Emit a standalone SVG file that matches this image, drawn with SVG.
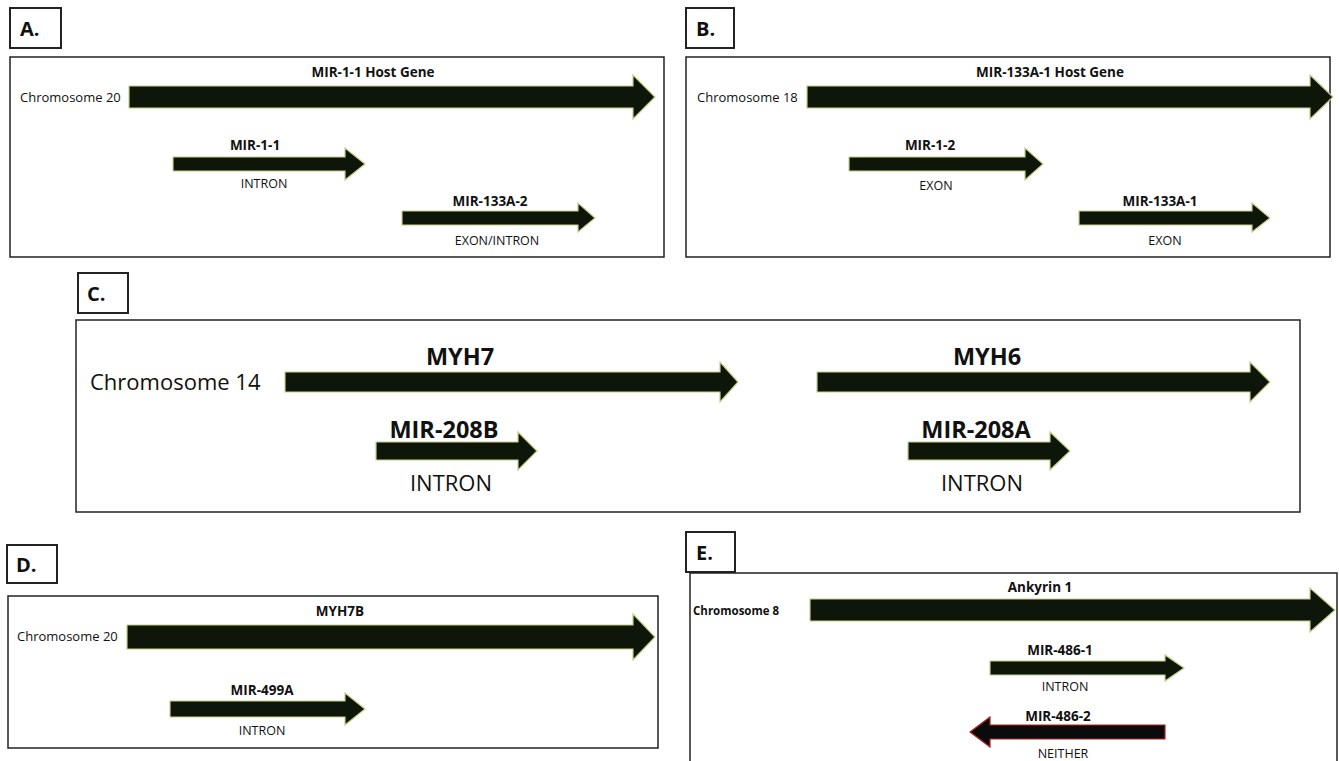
<svg xmlns="http://www.w3.org/2000/svg" width="1339" height="761" viewBox="0 0 1339 761">
  <style>
    .frame { fill: none; stroke: #222; stroke-width: 1.5; }
    .tag { fill: #fff; stroke: #222; stroke-width: 2; }
    .tagtxt { font-family: "Open Sans", "Liberation Sans", sans-serif; font-weight: bold; font-size: 20px; fill: #111; }
    .gene { fill: #0e1509; stroke: #c4cf8a; stroke-width: 1.2; stroke-linejoin: miter; }
    .rev { fill: #0b0b0b; stroke: #b22222; stroke-width: 1.2; }
    .sm { font-family: "Open Sans", "Liberation Sans", sans-serif; font-size: 12.5px; fill: #111; }
    .smb { font-family: "Open Sans", "Liberation Sans", sans-serif; font-size: 13.5px; font-weight: bold; fill: #111; }
    .chr { font-family: "Open Sans", "Liberation Sans", sans-serif; font-size: 13px; fill: #111; }
    .lg { font-family: "Open Sans", "Liberation Sans", sans-serif; font-size: 22px; fill: #111; }
    .lgb { font-family: "Open Sans", "Liberation Sans", sans-serif; font-size: 23.5px; font-weight: bold; fill: #111; }
    .mid { text-anchor: middle; }
  </style>

  <rect width="1339" height="761" fill="#fff"/>

  <!-- Panel A -->
  <g id="panel-a">
    <rect class="tag" x="10" y="8" width="51" height="40"/>
    <text class="tagtxt" x="20" y="36">A.</text>
    <rect class="frame" x="10" y="57" width="654" height="200"/>
    <text class="chr" x="20" y="102">Chromosome 20</text>
    <g id="a-host">
      <path class="gene" d="M129,86 H633 V75 L655,97 L633,119 V108 H129 Z"/>
      <text class="smb mid" x="373" y="77">MIR-1-1 Host Gene</text>
    </g>
    <g id="a-mir-1-1">
      <path class="gene" d="M173,157 H345 V148 L365,164 L345,180 V171 H173 Z"/>
      <text class="smb mid" x="255" y="150">MIR-1-1</text>
      <text class="sm mid" x="264" y="188">INTRON</text>
    </g>
    <g id="a-mir-133a-2">
      <path class="gene" d="M402,211 H578 V203 L595,218 L578,232 V225 H402 Z"/>
      <text class="smb mid" x="490" y="206">MIR-133A-2</text>
      <text class="sm mid" x="497" y="245">EXON/INTRON</text>
    </g>
  </g>

  <!-- Panel B -->
  <g id="panel-b">
    <rect class="tag" x="686" y="8" width="48" height="40"/>
    <text class="tagtxt" x="696" y="36">B.</text>
    <rect class="frame" x="686" y="57" width="644" height="200"/>
    <text class="chr" x="697" y="102">Chromosome 18</text>
    <g id="b-host">
      <path class="gene" d="M807,86 H1310 V75 L1333,97 L1310,119 V108 H807 Z"/>
      <text class="smb mid" x="1050" y="77">MIR-133A-1 Host Gene</text>
    </g>
    <g id="b-mir-1-2">
      <path class="gene" d="M849,157 H1025 V148 L1043,164 L1025,180 V171 H849 Z"/>
      <text class="smb mid" x="930" y="150">MIR-1-2</text>
      <text class="sm mid" x="936" y="190">EXON</text>
    </g>
    <g id="b-mir-133a-1">
      <path class="gene" d="M1079,211 H1252 V203 L1270,218 L1252,232 V225 H1079 Z"/>
      <text class="smb mid" x="1160" y="206">MIR-133A-1</text>
      <text class="sm mid" x="1165" y="245">EXON</text>
    </g>
  </g>

  <!-- Panel C -->
  <g id="panel-c">
    <rect class="tag" x="78" y="273" width="50" height="40"/>
    <text class="tagtxt" x="87" y="301">C.</text>
    <rect class="frame" x="76" y="320" width="1224" height="192"/>
    <text class="lg" x="90" y="390">Chromosome 14</text>
    <g id="c-myh7">
      <path class="gene" d="M285,372 H720 V362 L738,382 L720,402 V392 H285 Z"/>
      <text class="lgb mid" x="460" y="365">MYH7</text>
    </g>
    <g id="c-myh6">
      <path class="gene" d="M817,372 H1250 V362 L1270,382 L1250,402 V392 H817 Z"/>
      <text class="lgb mid" x="987" y="365">MYH6</text>
    </g>
    <g id="c-mir-208b">
      <path class="gene" d="M376,442 H518 V432 L537,451 L518,470 V460 H376 Z"/>
      <text class="lgb mid" x="444" y="438">MIR-208B</text>
      <text class="lg mid" x="451" y="491">INTRON</text>
    </g>
    <g id="c-mir-208a">
      <path class="gene" d="M908,442 H1050 V432 L1070,451 L1050,470 V460 H908 Z"/>
      <text class="lgb mid" x="976" y="438">MIR-208A</text>
      <text class="lg mid" x="982" y="491">INTRON</text>
    </g>
  </g>

  <!-- Panel D -->
  <g id="panel-d">
    <rect class="tag" x="7" y="545" width="50" height="38"/>
    <text class="tagtxt" x="16" y="572">D.</text>
    <rect class="frame" x="8" y="596" width="650" height="152"/>
    <text class="chr" x="17" y="641">Chromosome 20</text>
    <g id="d-myh7b">
      <path class="gene" d="M127,625 H633 V614 L655,637 L633,660 V649 H127 Z"/>
      <text class="smb mid" x="340" y="616">MYH7B</text>
    </g>
    <g id="d-mir-499a">
      <path class="gene" d="M170,701 H345 V693 L365,709 L345,725 V717 H170 Z"/>
      <text class="smb mid" x="262" y="695">MIR-499A</text>
      <text class="sm mid" x="262" y="735">INTRON</text>
    </g>
  </g>

  <!-- Panel E -->
  <g id="panel-e">
    <rect class="tag" x="686" y="532" width="49" height="40"/>
    <text class="tagtxt" x="696" y="560">E.</text>
    <rect class="frame" x="690" y="573" width="647" height="200"/>
    <text class="chr" x="693" y="615" style="font-size:11.5px;font-weight:bold">Chromosome 8</text>
    <g id="e-ank1">
      <path class="gene" d="M810,599 H1310 V588 L1335,610 L1310,632 V621 H810 Z"/>
      <text class="smb mid" x="1040" y="592">Ankyrin 1</text>
    </g>
    <g id="e-mir-486-1">
      <path class="gene" d="M990,661 H1165 V655 L1184,668 L1165,681 V675 H990 Z"/>
      <text class="smb mid" x="1060" y="655">MIR-486-1</text>
      <text class="sm mid" x="1065" y="691">INTRON</text>
    </g>
    <g id="e-mir-486-2">
      <path class="rev" d="M1165,725 H990 V717 L970,732 L990,747 V739 H1165 Z"/>
      <text class="smb mid" x="1058" y="721">MIR-486-2</text>
      <text class="sm mid" x="1063" y="758">NEITHER</text>
    </g>
  </g>
</svg>
